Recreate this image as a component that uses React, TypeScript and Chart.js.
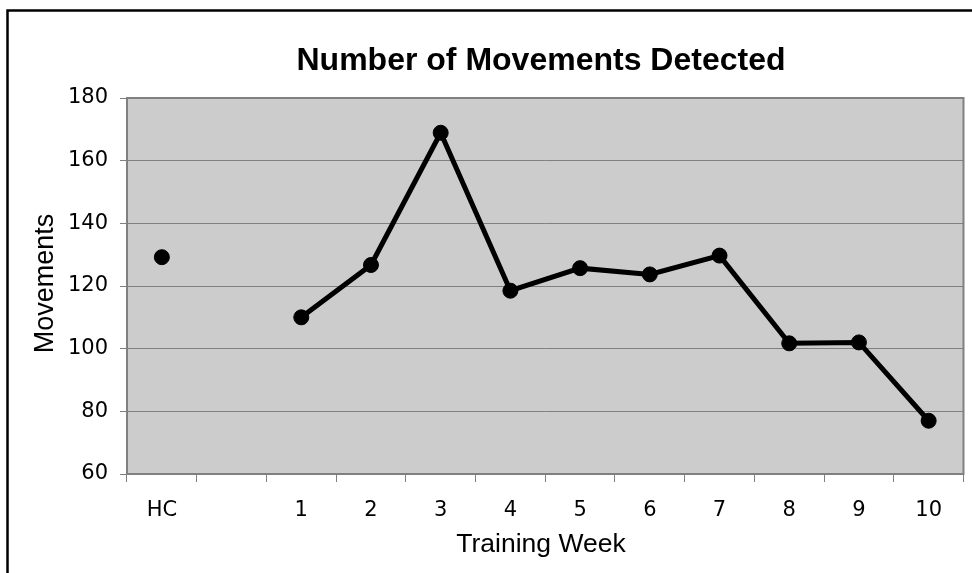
import React, { useEffect, useRef } from "react";
import { Chart, registerables } from "chart.js";

Chart.register(...registerables);

const TITLE = "Number of Movements Detected";
const X_TITLE = "Training Week";
const Y_TITLE = "Movements";
const CATEGORIES = ["HC", "", "1", "2", "3", "4", "5", "6", "7", "8", "9", "10"];
const MOVEMENTS: (number | null)[] = [129.2, null, 110.0, 126.7, 168.9, 118.5, 125.7, 123.7, 129.7, 101.7, 102.0, 77.0];
const Y_MIN = 60;
const Y_MAX = 180;
const Y_STEP = 20;

const framePlugin = {
  id: "framePlugin",
  beforeDraw(chart: any) {
    const { ctx, chartArea } = chart;
    ctx.save();
    ctx.fillStyle = "#ffffff";
    ctx.fillRect(0, 0, chart.width, chart.height);
    ctx.fillStyle = "#cccccc";
    ctx.fillRect(chartArea.left, chartArea.top, chartArea.right - chartArea.left, chartArea.bottom - chartArea.top);
    ctx.strokeStyle = "#000000";
    ctx.lineWidth = 2.5;
    ctx.beginPath();
    ctx.moveTo(7.5, chart.height + 2);
    ctx.lineTo(7.5, 10.5);
    ctx.lineTo(chart.width + 2, 10.5);
    ctx.stroke();
    ctx.restore();
  },
  afterDraw(chart: any) {
    const { ctx, chartArea } = chart;
    ctx.save();
    ctx.strokeStyle = "#808080";
    ctx.lineWidth = 2;
    ctx.strokeRect(chartArea.left, chartArea.top, chartArea.right - chartArea.left, chartArea.bottom - chartArea.top);
    ctx.restore();
  },
  afterDatasetsDraw(chart: any) {
    const { ctx } = chart;
    ctx.save();
    ctx.fillStyle = "#000000";
    ctx.textAlign = "center";
    ctx.textBaseline = "alphabetic";
    ctx.font = "bold 32px 'Liberation Sans', Arial, sans-serif";
    ctx.fillText(TITLE, 541, 70);
    ctx.font = "26.5px 'Liberation Sans', Arial, sans-serif";
    ctx.fillText(X_TITLE, 541, 552);
    ctx.translate(53, 283.5);
    ctx.rotate(-Math.PI / 2);
    ctx.font = "27px 'Liberation Sans', Arial, sans-serif";
    ctx.fillText(Y_TITLE, 0, 0);
    ctx.restore();
  },
};

export default function App() {
  const ref = useRef<HTMLCanvasElement | null>(null);
  useEffect(() => {
    if (!ref.current) return;
    const chart = new Chart(ref.current, {
      type: "line",
      data: {
        labels: CATEGORIES,
        datasets: [
          {
            data: MOVEMENTS,
            borderColor: "#000000",
            backgroundColor: "#000000",
            borderWidth: 5,
            pointRadius: 7.5,
            pointBorderWidth: 1,
            pointBackgroundColor: "#000000",
            pointBorderColor: "#000000",
            spanGaps: false,
            tension: 0,
          },
        ],
      },
      options: {
        animation: false,
        responsive: false,
        devicePixelRatio: 1,
        layout: { padding: { top: 98, right: 7, left: 0, bottom: 0 } },
        plugins: {
          legend: { display: false },
          title: { display: false },
          tooltip: { enabled: false },
        },
        scales: {
          x: {
            type: "category",
            offset: true,
            grid: {
              offset: true,
              drawOnChartArea: false,
              drawTicks: true,
              tickLength: 8,
              color: "#808080",
              lineWidth: 1,
            },
            border: { display: true, color: "#808080", width: 2 },
            ticks: {
              color: "#000000",
              padding: 16,
              maxRotation: 0,
              autoSkip: false,
              font: { family: "'DejaVu Sans', Verdana, sans-serif", size: 21 },
            },
            afterFit: (scale: any) => {
              scale.height = 99;
            },
          },
          y: {
            min: Y_MIN,
            max: Y_MAX,
            grid: {
              color: "#808080",
              lineWidth: 1,
              drawTicks: true,
              tickLength: 7,
            },
            border: { display: true, color: "#808080", width: 2 },
            ticks: {
              stepSize: Y_STEP,
              color: "#000000",
              padding: 12,
              font: { family: "'DejaVu Sans', Verdana, sans-serif", size: 21 },
            },
            afterFit: (scale: any) => {
              scale.width = 127;
            },
          },
        },
      },
      plugins: [framePlugin],
    });
    return () => chart.destroy();
  }, []);
  return (
    <div style={{ position: "absolute", left: 0, top: 0, width: 972, height: 573 }}>
      <canvas ref={ref} width={972} height={573} style={{ display: "block" }} />
    </div>
  );
}
